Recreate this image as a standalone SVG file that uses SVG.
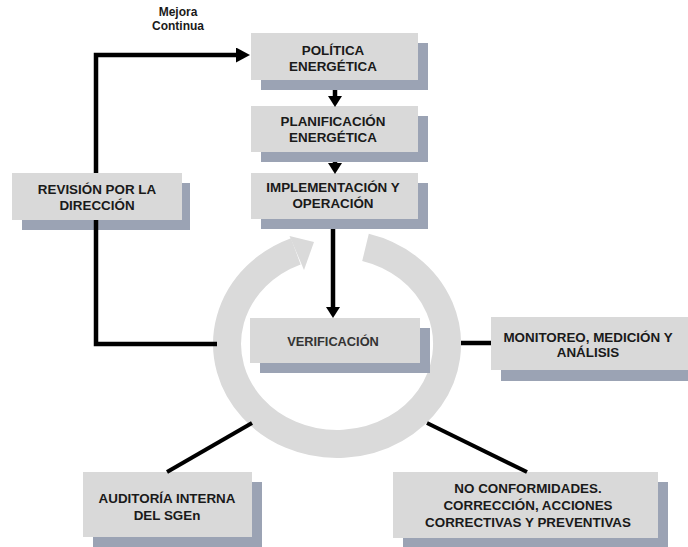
<svg xmlns="http://www.w3.org/2000/svg" width="688" height="547" viewBox="0 0 688 547">
<style>
  .box{fill:#d9d9d9}
  .sh{fill:#9ba3b4}
  .t{font-family:"Liberation Sans",Arial,sans-serif;font-weight:bold;font-size:13.4px;fill:#1a1a1a;text-anchor:middle}
  .tm{font-family:"Liberation Sans",Arial,sans-serif;font-weight:bold;font-size:12px;fill:#1a1a1a;text-anchor:middle}
  .tv{font-family:"Liberation Sans",Arial,sans-serif;font-weight:bold;font-size:12.8px;fill:#333;text-anchor:middle}
  .c{fill:none;stroke:#000;stroke-width:4.5}
  .c2{fill:none;stroke:#000;stroke-width:4}
</style>
<defs>
  <marker id="ah" markerUnits="userSpaceOnUse" markerWidth="15" markerHeight="15" refX="0" refY="7.5" orient="auto">
    <path d="M0,0 L14,7.5 L0,15 z" fill="#000"/>
  </marker>
  <marker id="ahs" markerUnits="userSpaceOnUse" markerWidth="14" markerHeight="14" refX="0" refY="7" orient="auto">
    <path d="M0,0 L11,7 L0,14 z" fill="#000"/>
  </marker>
</defs>
<rect width="688" height="547" fill="#fff"/>

<g id="cycle">
  <path d="M365.5,247.4 A110,100 0 1 1 295.8,251.3" fill="none" stroke="#dadada" stroke-width="28"/>
  <path d="M304,270 L289.5,236 L314,242 z" fill="#dadada"/>
</g>

<g id="mejora">
  <text class="tm" x="178" y="16">Mejora</text>
  <text class="tm" x="178" y="30">Continua</text>
</g>

<g id="politica">
  <rect class="sh" x="261" y="43" width="167" height="47"/>
  <rect class="box" x="251" y="33" width="167" height="47"/>
  <text class="t" x="333" y="55">POLÍTICA</text>
  <text class="t" x="333" y="71">ENERGÉTICA</text>
</g>

<g id="planificacion">
  <rect class="sh" x="261" y="116" width="167" height="46"/>
  <rect class="box" x="251" y="106" width="167" height="46"/>
  <text class="t" x="333" y="126">PLANIFICACIÓN</text>
  <text class="t" x="333" y="142">ENERGÉTICA</text>
</g>

<g id="implementacion">
  <rect class="sh" x="261" y="183" width="167" height="46"/>
  <rect class="box" x="251" y="173" width="167" height="46"/>
  <text class="t" x="333" y="192">IMPLEMENTACIÓN Y</text>
  <text class="t" x="333" y="208">OPERACIÓN</text>
</g>

<g id="revision">
  <rect class="sh" x="22" y="183" width="168" height="47"/>
  <rect class="box" x="12" y="173" width="170" height="47"/>
  <text class="t" x="97" y="194">REVISIÓN POR LA</text>
  <text class="t" x="97" y="210">DIRECCIÓN</text>
</g>

<g id="verificacion">
  <rect class="sh" x="260" y="328" width="170" height="45"/>
  <rect class="box" x="250" y="318" width="170" height="45"/>
  <text class="tv" x="333" y="346">VERIFICACIÓN</text>
</g>

<g id="monitoreo">
  <rect class="sh" x="501" y="327" width="187" height="54"/>
  <rect class="box" x="491" y="317" width="197" height="53"/>
  <text class="t" x="588" y="342">MONITOREO, MEDICIÓN Y</text>
  <text class="t" x="588" y="357">ANÁLISIS</text>
</g>

<g id="auditoria">
  <rect class="sh" x="93" y="482" width="169" height="65"/>
  <rect class="box" x="83" y="472" width="169" height="65"/>
  <text class="t" x="167" y="503">AUDITORÍA INTERNA</text>
  <text class="t" x="167" y="520">DEL SGEn</text>
</g>

<g id="noconformidades">
  <rect class="sh" x="403" y="482" width="265" height="65"/>
  <rect class="box" x="393" y="472" width="265" height="66"/>
  <text class="t" x="528" y="493">NO CONFORMIDADES.</text>
  <text class="t" x="528" y="510">CORRECCIÓN, ACCIONES</text>
  <text class="t" x="528" y="527">CORRECTIVAS Y PREVENTIVAS</text>
</g>

<g id="connectors">
  <path class="c" d="M96,173 L96,55 L236,55" marker-end="url(#ah)"/>
  <path class="c" d="M96,220 L96,344 L217,344"/>
  <path class="c" d="M335,90 L335,96" marker-end="url(#ahs)"/>
  <path class="c" d="M335,162 L335,163" marker-end="url(#ahs)"/>
  <path class="c" d="M333,229 L333,307" marker-end="url(#ahs)"/>
  <path class="c" d="M461,343 L491,343"/>
  <path class="c2" d="M252,423 L167,472"/>
  <path class="c2" d="M427,423 L527,472"/>
</g>
</svg>
